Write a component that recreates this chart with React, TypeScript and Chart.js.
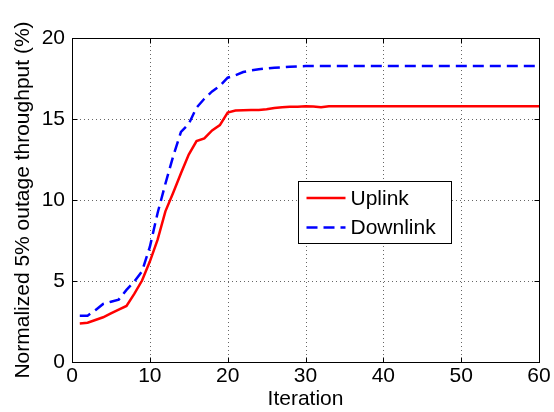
import React, { useEffect, useRef } from "react";
import { Chart, registerables } from "chart.js";

Chart.register(...registerables);

const iterations = [
  1, 2, 3, 4, 5, 6, 7, 8, 9, 10, 11, 12, 13, 14, 15, 16, 17, 18, 19, 20,
  21, 22, 23, 24, 25, 26, 27, 28, 29, 30, 31, 32, 33, 34, 35, 36, 37, 38, 39, 40,
  41, 42, 43, 44, 45, 46, 47, 48, 49, 50, 51, 52, 53, 54, 55, 56, 57, 58, 59, 60,
];

const uplink = [
  2.38, 2.42, 2.59, 2.76, 3.0, 3.23, 3.46, 4.2, 5.03, 6.2,
  7.55, 9.3, 10.45, 11.65, 12.8, 13.64, 13.8, 14.3, 14.62, 15.4,
  15.52, 15.54, 15.55, 15.56, 15.6, 15.68, 15.73, 15.75, 15.76, 15.78,
  15.77, 15.72, 15.78, 15.78, 15.78, 15.78, 15.78, 15.78, 15.78, 15.78,
  15.78, 15.78, 15.78, 15.78, 15.78, 15.78, 15.78, 15.78, 15.78, 15.78,
  15.78, 15.78, 15.78, 15.78, 15.78, 15.78, 15.78, 15.78, 15.78, 15.78,
];

const downlink = [
  2.86, 2.86, 3.2, 3.58, 3.72, 3.85, 4.45, 4.96, 5.6, 7.1,
  9.2, 11.0, 12.7, 14.2, 14.7, 15.7, 16.25, 16.7, 17.05, 17.55,
  17.7, 17.9, 18.0, 18.07, 18.12, 18.16, 18.19, 18.22, 18.25, 18.27,
  18.27, 18.27, 18.27, 18.27, 18.27, 18.27, 18.27, 18.27, 18.27, 18.27,
  18.27, 18.27, 18.27, 18.27, 18.27, 18.27, 18.27, 18.27, 18.27, 18.27,
  18.27, 18.27, 18.27, 18.27, 18.27, 18.27, 18.27, 18.27, 18.27, 18.27,
];

const seriesNames = ["Uplink", "Downlink"];
const xTitle = "Iteration";
const yTitle = "Normalized 5% outage throughput (%)";

const FONT_FAMILY = "'Liberation Sans', Arial, Helvetica, sans-serif";
const FONT_SIZE = 21;
const RED = "#ff0000";
const BLUE = "#0000ff";
const DASH = [11, 6];

const framePlugin = {
  id: "matlabFrame",
  beforeDatasetsDraw(chart: any) {
    const { ctx, chartArea } = chart;
    const xs = chart.scales.x;
    const ys = chart.scales.y;
    ctx.save();
    ctx.strokeStyle = "rgba(0,0,0,0.6)";
    ctx.lineWidth = 1;
    ctx.setLineDash([1, 3]);
    xs.ticks.forEach((t: any) => {
      const px = Math.round(xs.getPixelForValue(t.value)) + 0.5;
      ctx.beginPath();
      ctx.moveTo(px, chartArea.top);
      ctx.lineTo(px, chartArea.bottom);
      ctx.stroke();
    });
    ys.ticks.forEach((t: any) => {
      const py = Math.round(ys.getPixelForValue(t.value)) + 0.5;
      ctx.beginPath();
      ctx.moveTo(chartArea.left, py);
      ctx.lineTo(chartArea.right, py);
      ctx.stroke();
    });
    ctx.restore();
  },
  afterDraw(chart: any) {
    const { ctx, chartArea } = chart;
    const xs = chart.scales.x;
    const ys = chart.scales.y;
    const l = Math.round(chartArea.left) + 0.5;
    const r = Math.round(chartArea.right) + 0.5;
    const t = Math.round(chartArea.top) + 0.5;
    const b = Math.round(chartArea.bottom) + 0.5;
    ctx.save();
    ctx.setLineDash([]);
    ctx.strokeStyle = "#000";
    ctx.lineWidth = 1;
    ctx.strokeRect(l, t, r - l, b - t);
    const tl = 5;
    ctx.beginPath();
    xs.ticks.forEach((tk: any) => {
      const px = Math.round(xs.getPixelForValue(tk.value)) + 0.5;
      ctx.moveTo(px, b);
      ctx.lineTo(px, b - tl);
      ctx.moveTo(px, t);
      ctx.lineTo(px, t + tl);
    });
    ys.ticks.forEach((tk: any) => {
      const py = Math.round(ys.getPixelForValue(tk.value)) + 0.5;
      ctx.moveTo(l, py);
      ctx.lineTo(l + tl, py);
      ctx.moveTo(r, py);
      ctx.lineTo(r - tl, py);
    });
    ctx.stroke();

    // legend
    const bx = Math.round(chartArea.left + 226) + 0.5;
    const by = Math.round(chartArea.top + 143) + 0.5;
    const bw = 153;
    const bh = 62;
    ctx.fillStyle = "#fff";
    ctx.fillRect(bx, by, bw, bh);
    ctx.strokeStyle = "#000";
    ctx.lineWidth = 1;
    ctx.strokeRect(bx, by, bw, bh);
    const rows = [
      { name: seriesNames[0], color: RED, dash: [] as number[] },
      { name: seriesNames[1], color: BLUE, dash: DASH },
    ];
    rows.forEach((row, i) => {
      const cy = by + 16.5 + i * 29.5;
      ctx.beginPath();
      ctx.setLineDash(row.dash);
      ctx.strokeStyle = row.color;
      ctx.lineWidth = 2.5;
      ctx.moveTo(bx + 8, cy);
      ctx.lineTo(bx + 47, cy);
      ctx.stroke();
      ctx.setLineDash([]);
      ctx.fillStyle = "#000";
      ctx.font = `${FONT_SIZE}px ${FONT_FAMILY}`;
      ctx.textBaseline = "middle";
      ctx.textAlign = "left";
      ctx.fillText(row.name, bx + 52, cy + 1);
    });
    ctx.restore();
  },
};

export default function App() {
  const canvasRef = useRef<HTMLCanvasElement | null>(null);

  useEffect(() => {
    document.body.style.margin = "0";
    const canvas = canvasRef.current;
    if (!canvas) return;
    const font = { family: FONT_FAMILY, size: FONT_SIZE };
    const chart = new Chart(canvas, {
      type: "line",
      data: {
        labels: iterations,
        datasets: [
          {
            label: seriesNames[0],
            data: iterations.map((x, i) => ({ x, y: uplink[i] })),
            borderColor: RED,
            borderWidth: 2.5,
            pointRadius: 0,
            tension: 0,
            fill: false,
          },
          {
            label: seriesNames[1],
            data: iterations.map((x, i) => ({ x, y: downlink[i] })),
            borderColor: BLUE,
            borderWidth: 2.5,
            borderDash: DASH,
            pointRadius: 0,
            tension: 0,
            fill: false,
          },
        ],
      },
      options: {
        animation: false,
        responsive: false,
        maintainAspectRatio: false,
        layout: { padding: { left: 0, right: 15, top: 38, bottom: 0 } },
        plugins: {
          legend: { display: false },
          tooltip: { enabled: false },
        },
        scales: {
          x: {
            type: "linear",
            min: 0,
            max: 60,
            ticks: { stepSize: 10, color: "#000", font, padding: 2, maxRotation: 0 },
            grid: { display: false, drawTicks: false },
            border: { display: false },
            title: { display: true, text: xTitle, color: "#000", font, padding: { top: 0, bottom: 0 } },
            afterFit: (s: any) => {
              s.height = 50;
            },
          },
          y: {
            type: "linear",
            min: 0,
            max: 20,
            ticks: { stepSize: 5, color: "#000", font, padding: 7 },
            grid: { display: false, drawTicks: false },
            border: { display: false },
            title: { display: true, text: yTitle, color: "#000", font, padding: { top: 11, bottom: 0 } },
            afterFit: (s: any) => {
              s.width = 72;
            },
          },
        },
      },
      plugins: [framePlugin],
    });
    return () => chart.destroy();
  }, []);

  return (
    <div style={{ position: "absolute", left: 0, top: 0, width: 554, height: 412 }}>
      <canvas ref={canvasRef} width={554} height={412} style={{ width: 554, height: 412 }} />
    </div>
  );
}
